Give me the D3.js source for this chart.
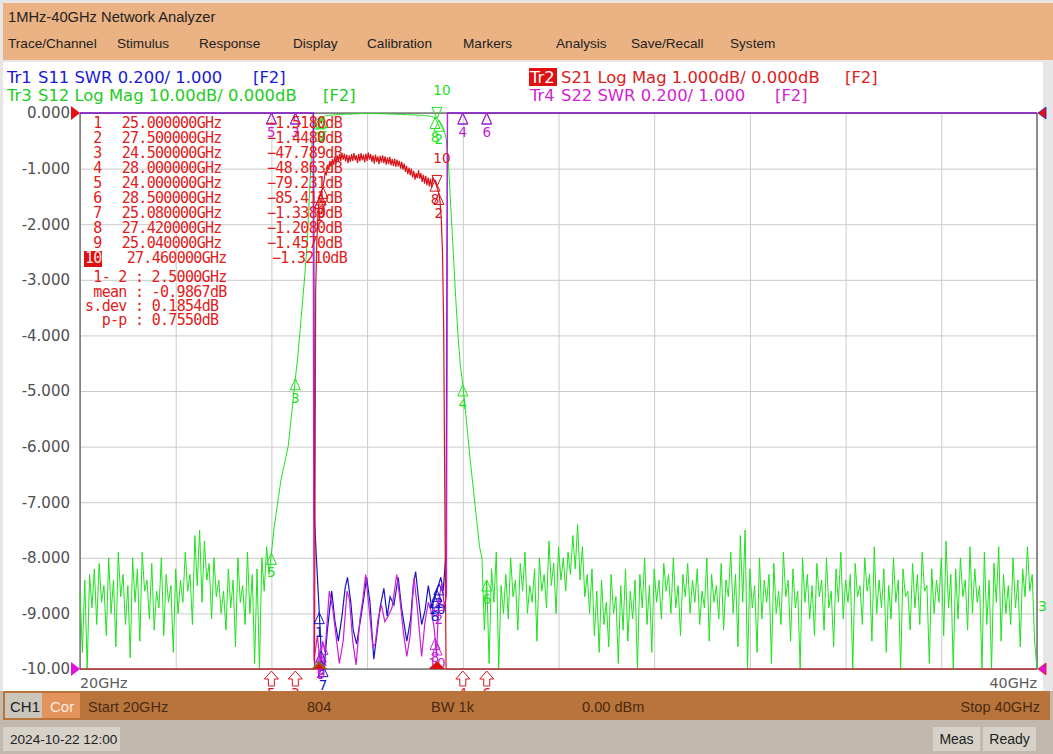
<!DOCTYPE html>
<html><head><meta charset="utf-8">
<script src="https://cdn.jsdelivr.net/npm/d3@7"></script>
<style>
html,body{margin:0;padding:0;background:#fff;overflow:hidden}
svg{display:block}
</style></head>
<body>
<svg id="c" width="1053" height="754"></svg>
<script>
// ---------------- DATA ----------------
const titleText = "1MHz-40GHz Network Analyzer";
const menuItems = ["Trace/Channel","Stimulus","Response","Display","Calibration","Markers","Analysis","Save/Recall","System"];
const startGHz = 20, stopGHz = 40, sweepStep = 0.05, s21Step = 0.025;
const freqGrid = [20,22,24,26,28,30,32,34,36,38,40];
const yTickVals = [0,-1,-2,-3,-4,-5,-6,-7,-8,-9,-10];
const yTickLabels = ["0.000","-1.000","-2.000","-3.000","-4.000","-5.000","-6.000","-7.000","-8.000","-9.000","-10.00"];

// Tr3 S12 (dB), 20.00 .. 23.95 GHz, 0.05 GHz steps
const s12Low = [
 -86,-97,-84,-100,-83,-89,-82,-92,-81,-88,
 -85,-94,-80,-90,-84,-96,-79,-87,-83,-92,
 -85,-98,-80,-88,-82,-95,-79,-86,-84,-91,
 -81,-93,-86,-89,-80,-94,-83,-88,-85,-97,
 -82,-90,-84,-88,-79,-86,-83,-92,-76,-85,
 -75,-88,-77,-84,-81,-91,-80,-87,-84,-90,
 -86,-93,-82,-89,-84,-96,-80,-88,-85,-92,
 -79,-90,-83,-99,-82,-100,-80,-86,-78,-83];
// 24.00 .. 28.35 GHz
const s12Skirt = [
 -79.2,
 -75,-72,-69,-66,-64,-62,-60,-56,-52,-47.8,
 -44,-39,-34,-29,-23,-14,-5,-1.8,-1.2,-0.9,
 -0.7,-0.6,-0.5,-0.45,-0.4,-0.35,-0.3,-0.3,-0.25,-0.25,
 -0.2,-0.2,-0.2,-0.15,-0.15,-0.15,-0.1,-0.1,-0.1,-0.1,
 -0.1,-0.1,-0.1,-0.12,-0.12,-0.15,-0.15,-0.15,-0.18,-0.2,
 -0.2,-0.22,-0.25,-0.25,-0.28,-0.3,-0.3,-0.32,-0.35,-0.35,
 -0.38,-0.4,-0.42,-0.45,-0.5,-0.55,-0.65,-0.75,
 -0.9,-1.3,-1.9,-2.8,-4.5,-9,-17,-25,-33,-40,
 -45.5,-48.9,-53,-57.5,-62,-66,-70,-74,-78];
// 28.40 .. 40.00 GHz
const s12High = [
 -80,-93,-84,-99,-82,-88,-79,-100,-85,-90,
 -83,-91,-80,-87,-84,-93,-81,-86,-79,-90,
 -85,-88,-82,-95,-80,-86,-83,-89,-77,-85,
 -81,-90,-78,-84,-80,-86,-79,-83,-76,-82,
 -74,-84,-78,-87,-83,-90,-82,-94,-86,-97,
 -84,-92,-88,-96,-83,-90,-87,-99,-85,-93,
 -82,-95,-86,-91,-84,-100,-83,-89,-80,-92,
 -85,-97,-82,-88,-84,-91,-81,-86,-83,-90,
 -80,-89,-85,-94,-83,-87,-81,-90,-84,-88,
 -82,-92,-86,-89,-80,-95,-83,-88,-85,-91,
 -81,-93,-84,-87,-79,-90,-83,-96,-76,-88,
 -75,-100,-82,-89,-85,-97,-80,-91,-84,-88,
 -83,-99,-81,-90,-86,-92,-79,-87,-84,-95,
 -82,-89,-86,-100,-80,-88,-83,-91,-85,-94,
 -81,-87,-84,-93,-80,-89,-86,-96,-82,-88,
 -79,-91,-84,-88,-83,-100,-81,-87,-85,-92,
 -80,-86,-83,-95,-78,-90,-84,-89,-82,-97,
 -85,-91,-80,-88,-84,-100,-82,-87,-86,-93,
 -81,-89,-83,-92,-79,-86,-85,-99,-82,-90,
 -84,-88,-80,-94,-77,-89,-83,-100,-82,-91,
 -80,-87,-84,-93,-78,-90,-82,-88,-85,-100,
 -79,-92,-84,-100,-81,-88,-78,-95,-83,-90,
 -85,-92,-80,-89,-84,-96,-82,-87,-78,-86,
 -83,-95,-100];

// Tr2 S21 (dB) passband, from 24.900 GHz in 0.025 GHz steps
const s21Band = [
 -12,-3.2,-2.3,-1.8,-1.52,-1.47,-1.40,-1.34,-1.22,-1.05,
 -1.12,-0.95,-1.02,-0.86,-0.97,-0.83,-0.93,-0.79,-0.91,-0.76,
 -0.88,-0.74,-0.86,-0.72,-0.84,-0.73,-0.87,-0.75,-0.90,-0.76,
 -0.88,-0.74,-0.86,-0.72,-0.85,-0.76,-0.90,-0.74,-0.87,-0.72,
 -0.85,-0.75,-0.89,-0.73,-0.86,-0.71,-0.84,-0.74,-0.88,-0.76,
 -0.91,-0.75,-0.88,-0.78,-0.92,-0.77,-0.89,-0.76,-0.90,-0.78,
 -0.93,-0.80,-0.92,-0.79,-0.94,-0.83,-0.95,-0.82,-0.97,-0.84,
 -0.96,-0.86,-1.00,-0.88,-1.02,-0.91,-1.06,-0.95,-1.10,-0.98,
 -1.12,-1.00,-1.16,-1.04,-1.20,-1.08,-1.17,-1.03,-1.18,-1.08,
 -1.24,-1.11,-1.27,-1.13,-1.30,-1.16,-1.32,-1.18,-1.34,-1.16,
 -1.22,-1.21,-1.30,-1.38,-1.45,-1.6,-1.9,-2.5,-3.8,-7,-20];
const s21Start = 24.9;
const s21OutLow = [[20,-60],[24.875,-60]];
const s21OutHigh = [[27.675,-60],[40,-60]];

// Tr1 S11 SWR [GHz, SWR]
const s11 = [[20,5],[24.88,5],[24.90,1.54],[24.946,1.38],[24.995,1.22],[25.05,1.03],[25.10,1.00],[25.17,1.14],
 [25.26,1.28],[25.33,1.17],[25.40,1.10],[25.475,1.19],[25.54,1.29],[25.59,1.33],[25.66,1.24],[25.71,1.14],
 [25.78,1.09],[25.865,1.18],[25.935,1.26],[25.99,1.33],[26.06,1.24],[26.14,1.035],[26.20,1.12],[26.27,1.22],
 [26.35,1.29],[26.42,1.19],[26.48,1.26],[26.56,1.23],[26.65,1.33],[26.72,1.22],[26.83,1.10],[26.91,1.18],
 [26.965,1.30],[27.015,1.35],[27.07,1.26],[27.14,1.16],[27.21,1.21],[27.28,1.30],[27.35,1.22],[27.42,1.26],
 [27.49,1.30],[27.54,1.33],[27.59,1.28],[27.65,1.42],[27.68,5],[40,5]];
// Tr4 S22 SWR [GHz, SWR]
const s22 = [[20,5],[24.87,5],[24.89,1.03],[24.96,1.12],[25.02,1.02],[25.07,1.10],[25.12,1.06],[25.21,1.28],
 [25.28,1.22],[25.35,1.12],[25.42,1.02],[25.50,1.10],[25.58,1.28],[25.63,1.25],[25.70,1.10],[25.77,1.015],
 [25.85,1.18],[25.91,1.25],[25.97,1.34],[26.04,1.22],[26.12,1.08],[26.17,1.09],[26.23,1.18],[26.30,1.23],
 [26.37,1.17],[26.44,1.19],[26.52,1.22],[26.62,1.34],[26.68,1.26],[26.76,1.13],[26.83,1.045],[26.90,1.12],
 [26.98,1.33],[27.05,1.22],[27.14,1.045],[27.21,1.17],[27.28,1.24],[27.35,1.20],[27.40,1.15],[27.45,1.05],
 [27.50,1.25],[27.56,1.31],[27.62,1.22],[27.66,1.27],[27.68,5],[40,5]];

// Markers
const markerNums  = [1,2,3,4,5,6,7,8,9,10];
const markerFreqs = [25.0,27.5,24.5,28.0,24.0,28.5,25.08,27.42,25.04,27.46];
const markerVals  = [-1.518,-1.448,-47.789,-48.863,-79.231,-85.411,-1.338,-1.208,-1.457,-1.321];
const activeMarker = 10;
const statLabels = ["1- 2","mean","s.dev","p-p"];
const statValues = ["2.5000GHz","-0.9867dB","0.1854dB","0.7550dB"];

const traceLabels = [
 {tr:"Tr1", text:"S11 SWR 0.200/ 1.000", fn:"[F2]", color:"#1818d8"},
 {tr:"Tr3", text:"S12 Log Mag 10.00dB/ 0.000dB", fn:"[F2]", color:"#22cc22"},
 {tr:"Tr2", text:"S21 Log Mag 1.000dB/ 0.000dB", fn:"[F2]", color:"#e01b1b"},
 {tr:"Tr4", text:"S22 SWR 0.200/ 1.000", fn:"[F2]", color:"#d21fd2"}];
const statusItems = ["Start 20GHz","804","BW 1k","0.00 dBm","Stop 40GHz"];
const dateText = "2024-10-22 12:00";

// ---------------- LAYOUT ----------------
const P = {x0:80, x1:1037, y0:113, y1:669};
const COL = {green:"#1ee21e", blue:"#1414c8", red:"#d8141a", mag:"#c81ed8",
  peach:"#ebb283", brown:"#b8743a", gray:"#c1b9ad", grid:"#cacaca"};
const menuX = [8,117,199,293,367,463,556,631,730];
const statusX = [88,307,431,582,1040];

const svg = d3.select("#c");
const x = d3.scaleLinear().domain([startGHz, stopGHz]).range([P.x0, P.x1]);
const yDb10 = d3.scaleLinear().domain([-100,0]).range([P.y1,P.y0]).clamp(true);
const yDb1  = d3.scaleLinear().domain([-10,0]).range([P.y1,P.y0]).clamp(true);
const ySwr  = d3.scaleLinear().domain([1,3]).range([P.y1,P.y0]).clamp(true);

// build series
const s12Vals = s12Low.concat(s12Skirt, s12High);
const s12 = s12Vals.map((v,i)=>[startGHz + i*sweepStep, v]);
const s21 = s21OutLow.concat(s21Band.map((v,i)=>[s21Start + i*s21Step, v]), s21OutHigh);

function interp(pts, f){
  const i = d3.bisector(d=>d[0]).left(pts, f);
  if (i<=0) return pts[0][1];
  if (i>=pts.length) return pts[pts.length-1][1];
  const a=pts[i-1], b=pts[i];
  return a[1] + (b[1]-a[1])*(f-a[0])/(b[0]-a[0]);
}

// ---------------- BACKGROUND ----------------
svg.append("rect").attr("width",1053).attr("height",754).attr("fill","#ffffff");
svg.append("rect").attr("x",0).attr("y",0).attr("width",1053).attr("height",62).attr("fill","#e6e6e6");
svg.append("rect").attr("x",3).attr("y",3).attr("width",1050).attr("height",57).attr("fill",COL.peach);
svg.append("rect").attr("x",1043).attr("y",62).attr("width",10).attr("height",630).attr("fill","#e6e6e6");
svg.append("rect").attr("x",0).attr("y",62).attr("width",3).attr("height",630).attr("fill","#e6e6e6");

svg.append("text").attr("x",8).attr("y",22).text(titleText)
  .attr("font-family","Liberation Sans, Arial, sans-serif").attr("font-size",14.7).attr("fill","#222");
svg.append("g").selectAll("text").data(menuItems).join("text")
  .attr("x",(d,i)=>menuX[i]).attr("y",48).text(d=>d)
  .attr("font-family","Liberation Sans, Arial, sans-serif").attr("font-size",13.6).attr("fill","#222");

// ---------------- GRID ----------------
const gx = svg.append("g").attr("transform",`translate(0,${P.y1})`)
  .call(d3.axisBottom(x).tickValues(freqGrid).tickSize(-(P.y1-P.y0)).tickFormat(""));
gx.select(".domain").remove();
gx.selectAll("line").attr("stroke",COL.grid).attr("stroke-width",1);

const gy = svg.append("g").attr("transform",`translate(${P.x0},0)`)
  .call(d3.axisLeft(yDb1).tickValues(yTickVals).tickSize(-(P.x1-P.x0)).tickPadding(10)
     .tickFormat((d,i)=>yTickLabels[i]));
gy.select(".domain").remove();
gy.selectAll("line").attr("stroke",COL.grid).attr("stroke-width",1);
gy.selectAll("text").attr("font-family","DejaVu Sans, sans-serif").attr("font-size",15).attr("fill","#505050");

svg.append("rect").attr("x",P.x0).attr("y",P.y0).attr("width",P.x1-P.x0).attr("height",P.y1-P.y0)
  .attr("fill","none").attr("stroke","#3c3c3c").attr("stroke-width",1);
svg.append("line").attr("x1",P.x1).attr("x2",P.x1).attr("y1",P.y0).attr("y2",P.y1).attr("stroke","#8a8a8a").attr("stroke-width",1.5);

svg.append("text").attr("x",x(startGHz)).attr("y",688).text(startGHz+"GHz")
  .attr("font-family","DejaVu Sans, sans-serif").attr("font-size",14.3).attr("fill","#5c5c5c");
svg.append("text").attr("x",x(stopGHz)).attr("y",688).attr("text-anchor","end").text(stopGHz+"GHz")
  .attr("font-family","DejaVu Sans, sans-serif").attr("font-size",14.3).attr("fill","#5c5c5c");

// ---------------- TRACES ----------------
const lineDb10 = d3.line().x(d=>x(d[0])).y(d=>yDb10(d[1]));
const lineDb1  = d3.line().x(d=>x(d[0])).y(d=>yDb1(d[1]));
const lineSwr  = d3.line().x(d=>x(d[0])).y(d=>ySwr(d[1]));

svg.append("path").datum(s12).attr("d",lineDb10).attr("fill","none").attr("stroke",COL.green).attr("stroke-width",1);
svg.append("path").datum(s11).attr("d",lineSwr).attr("fill","none").attr("stroke",COL.blue).attr("stroke-width",1.2);
svg.append("path").datum(s22).attr("d",lineSwr).attr("fill","none").attr("stroke",COL.mag).attr("stroke-width",1.2);
svg.append("path").datum(s21).attr("d",lineDb1).attr("fill","none").attr("stroke",COL.red).attr("stroke-width",1.2);

// ---------------- MARKERS ----------------
const mk = svg.append("g");
function markerAt(cx, cy, num, color, active, showLabel){
  if (active){
    mk.append("path").attr("d",`M${cx},${cy}L${cx-5},${cy-11}L${cx+5},${cy-11}Z`)
      .attr("fill","none").attr("stroke",color).attr("stroke-width",1);
    mk.append("text").attr("x",cx+5).attr("y",cy-23).attr("text-anchor","middle").text(num)
      .attr("font-family","DejaVu Sans, sans-serif").attr("font-size",13.5).attr("fill",color);
  } else {
    mk.append("path").attr("d",`M${cx},${cy}L${cx-5},${cy+11}L${cx+5},${cy+11}Z`)
      .attr("fill","none").attr("stroke",color).attr("stroke-width",1);
    if (showLabel !== false)
      mk.append("text").attr("x",cx).attr("y",cy+24).attr("text-anchor","middle").text(num)
        .attr("font-family","DejaVu Sans, sans-serif").attr("font-size",13.5).attr("fill",color);
  }
}
function arrowBottom(cx, num, color){
  const y=P.y1+2;
  mk.append("path").attr("d",`M${cx},${y}L${cx-7},${y+8}L${cx-3},${y+8}L${cx-3},${y+15}L${cx+3},${y+15}L${cx+3},${y+8}L${cx+7},${y+8}Z`)
    .attr("fill","#fff").attr("stroke",color).attr("stroke-width",1);
  mk.append("text").attr("x",cx).attr("y",y+27).attr("text-anchor","middle").text(num)
    .attr("font-family","DejaVu Sans, sans-serif").attr("font-size",13.5).attr("fill",color);
}
markerNums.forEach((n,i)=>{
  const f = markerFreqs[i], cx = x(f), v = interp(s11,f);
  markerAt(cx, ySwr(v), n, COL.blue, false, v <= 3);
});
markerNums.forEach((n,i)=>{
  const f = markerFreqs[i], cx = x(f);
  markerAt(cx, ySwr(interp(s22,f)), n, COL.mag, false, true);
});
markerNums.forEach((n,i)=>{
  const f = markerFreqs[i], cx = x(f);
  markerAt(cx, yDb10(interp(s12,f)), n, COL.green, n===activeMarker, true);
});
markerNums.forEach((n,i)=>{
  const f = markerFreqs[i], cx = x(f), v = markerVals[i];
  if (v < yDb1.domain()[0]) arrowBottom(cx, n, COL.red);
  else markerAt(cx, yDb1(v), n, COL.red, n===activeMarker, true);
});
// stimulus indicators at the bottom edge
[markerFreqs[0], markerFreqs[9]].forEach((f,i)=>{
  const cx=x(f);
  mk.append("path").attr("d",`M${cx},${P.y1-8}L${cx-8},${P.y1}L${cx+8},${P.y1}Z`)
    .attr("fill", i===0 ? "#8a6a10" : "#e01010");
  mk.append("path").attr("d",`M${cx},${P.y1-5}L${cx-5},${P.y1}L${cx+5},${P.y1}Z`).attr("fill","#e01010");
});

// reference triangles
svg.append("path").attr("d",`M71,${P.y0-7}L71,${P.y0+7}L80,${P.y0}Z`).attr("fill","#e81010");
svg.append("path").attr("d",`M71,${P.y1-7}L71,${P.y1+7}L80,${P.y1}Z`).attr("fill","#e010e0");
svg.append("path").attr("d",`M1046,${P.y0-6}L1046,${P.y0+6}L1038,${P.y0}Z`).attr("fill","#e81010").attr("stroke","#2020d0").attr("stroke-width",0.8);
svg.append("path").attr("d",`M1046,${P.y1-6}L1046,${P.y1+6}L1038,${P.y1}Z`).attr("fill","#e010e0").attr("stroke","#e81010").attr("stroke-width",0.8);
svg.append("text").attr("x",1038).attr("y",611).text("3")
  .attr("font-family","DejaVu Sans, sans-serif").attr("font-size",14).attr("fill",COL.green);

// ---------------- MARKER TABLE ----------------
const tb = svg.append("g").attr("font-family","DejaVu Sans Mono, monospace").attr("font-size",15)
  .attr("letter-spacing","-0.7").attr("fill","#e31b1b");
const fmtF = d3.format(".6f"), fmtV = d3.format(".5r");
markerNums.forEach((n,i)=>{
  const yb = 128 + i*15;
  const isAct = n===activeMarker;
  if (isAct){
    tb.append("rect").attr("x",84).attr("y",yb-12).attr("width",18).attr("height",16).attr("fill","#e01010");
    tb.append("text").attr("x",85).attr("y",yb).text(n).attr("fill","#ffe4e4");
  } else {
    tb.append("text").attr("x",93.3).attr("y",yb).text(n);
  }
  tb.append("text").attr("x",isAct?126.7:121.7).attr("y",yb).text(fmtF(markerFreqs[i])+"GHz");
  tb.append("text").attr("x",isAct?347:342).attr("y",yb).attr("text-anchor","end").text(fmtV(markerVals[i])+"dB");
});
const statX=[93.3,93.3,85,101.7], statY=[282,296.5,311,325];
statLabels.forEach((l,i)=>{
  tb.append("text").attr("x",statX[i]).attr("y",statY[i]).text(l+" : "+statValues[i]);
});

// ---------------- TRACE LABELS ----------------
const tlPos = [{x:7,y:83,fx:253},{x:7,y:101,fx:323},{x:530,y:83,fx:845},{x:530,y:101,fx:775}];
traceLabels.forEach((t,i)=>{
  const p=tlPos[i];
  const g=svg.append("g").attr("font-family","DejaVu Sans, sans-serif").attr("font-size",16.4).attr("fill",t.color);
  if (t.tr==="Tr2"){
    g.append("rect").attr("x",p.x-1).attr("y",p.y-15).attr("width",28).attr("height",18).attr("fill","#e01010");
    g.append("text").attr("x",p.x).attr("y",p.y).text(t.tr).attr("fill","#fff");
  } else {
    g.append("text").attr("x",p.x).attr("y",p.y).text(t.tr);
  }
  g.append("text").attr("x",p.x+31).attr("y",p.y).text(t.text);
  g.append("text").attr("x",p.fx).attr("y",p.y).text(t.fn);
});

// ---------------- STATUS BARS ----------------
svg.append("rect").attr("x",0).attr("y",691).attr("width",1053).attr("height",63).attr("fill",COL.gray);
svg.append("rect").attr("x",3).attr("y",691).attr("width",1047).attr("height",29).attr("fill",COL.brown);
svg.append("rect").attr("x",5).attr("y",693).attr("width",37).attr("height",25).attr("fill","#cbc6bc");
svg.append("rect").attr("x",42).attr("y",693).attr("width",38).attr("height",25).attr("fill","#e3935c");
svg.append("text").attr("x",10).attr("y",712).text("CH1").attr("font-family","Liberation Sans, Arial, sans-serif").attr("font-size",15).attr("fill","#222");
svg.append("text").attr("x",50).attr("y",712).text("Cor").attr("font-family","Liberation Sans, Arial, sans-serif").attr("font-size",15).attr("fill","#fbeee4");
statusItems.forEach((s,i)=>{
  svg.append("text").attr("x",statusX[i]).attr("y",712).attr("text-anchor", i===statusItems.length-1?"end":"start")
    .text(s).attr("font-family","Liberation Sans, Arial, sans-serif").attr("font-size",14.6).attr("fill","#4a2a12");
});
svg.append("rect").attr("x",3).attr("y",727).attr("width",117).attr("height",24).attr("fill","#d6d1c9");
svg.append("text").attr("x",10).attr("y",744).text(dateText).attr("font-family","Liberation Sans, Arial, sans-serif").attr("font-size",13.6).attr("fill","#222");
svg.append("rect").attr("x",933).attr("y",727).attr("width",47).attr("height",24).attr("fill","#d6d1c9");
svg.append("rect").attr("x",983).attr("y",727).attr("width",53).attr("height",24).attr("fill","#d6d1c9");
svg.append("text").attr("x",956.5).attr("y",744).attr("text-anchor","middle").text("Meas").attr("font-family","Liberation Sans, Arial, sans-serif").attr("font-size",14).attr("fill","#222");
svg.append("text").attr("x",1009.5).attr("y",744).attr("text-anchor","middle").text("Ready").attr("font-family","Liberation Sans, Arial, sans-serif").attr("font-size",14).attr("fill","#222");
</script>
</body></html>
